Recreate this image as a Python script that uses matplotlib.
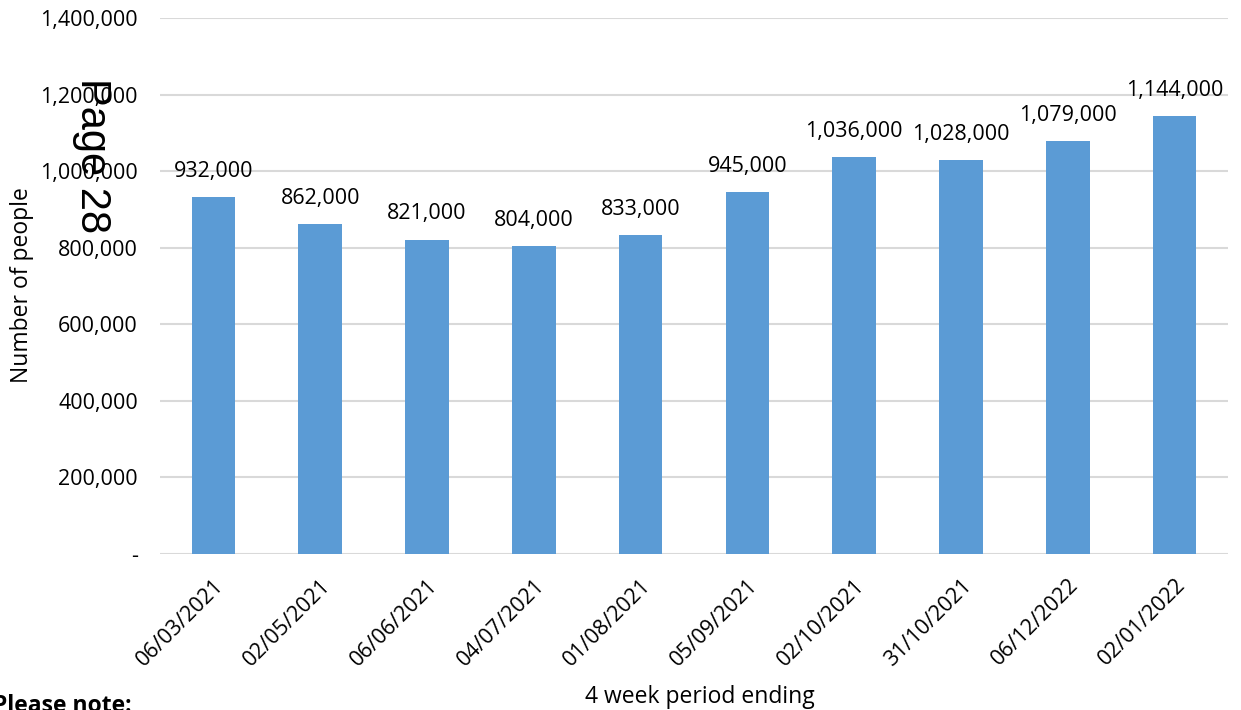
import matplotlib.pyplot as plt
from matplotlib.ticker import FuncFormatter

periods = ['06/03/2021', '02/05/2021', '06/06/2021', '04/07/2021', '01/08/2021',
           '05/09/2021', '02/10/2021', '31/10/2021', '06/12/2022', '02/01/2022']
people = [932000, 862000, 821000, 804000, 833000, 945000, 1036000, 1028000, 1079000, 1144000]
y_ticks = [0, 200000, 400000, 600000, 800000, 1000000, 1200000, 1400000]

plt.rcParams['font.family'] = ['Open Sans', 'DejaVu Sans']

fig = plt.figure(figsize=(12.41, 7.10), dpi=100)
ax = fig.add_axes([160 / 1241, 1 - 554 / 710, 1068 / 1241, 536 / 710])

x = list(range(len(periods)))
bars = ax.bar(x, people, width=0.41, color='#5B9BD5', zorder=3)

ax.set_xlim(-0.5, len(periods) - 0.5)
ax.set_ylim(0, 1400000)
ax.set_yticks(y_ticks)
ax.yaxis.set_major_formatter(FuncFormatter(lambda v, p: '-' if v == 0 else f'{int(v):,}'))
ax.grid(axis='y', color='#D9D9D9', linewidth=1.5, zorder=0)
for s in ax.spines.values():
    s.set_visible(False)
ax.tick_params(axis='both', length=0, labelsize=15.5)
ax.tick_params(axis='y', pad=16)
ax.tick_params(axis='x', pad=15)

ax.set_xticks(x)
ax.set_xticklabels(periods, rotation=45, ha='right', rotation_mode='anchor')

# value labels above bars
for b, v in zip(bars, people):
    ax.annotate(f'{v:,}', (b.get_x() + b.get_width() / 2, v), xytext=(0, 11),
                textcoords='offset points', ha='center', va='bottom', fontsize=15.5)

fig.text(22 / 1241, 1 - 285 / 710, 'Number of people', rotation=90, ha='center', va='center', fontsize=16.5)
fig.text(700 / 1241, 1 - 697 / 710, '4 week period ending', ha='center', va='center', fontsize=16.5)
fig.text(-7 / 1241, 1 - 712 / 710, 'Please note:', ha='left', va='baseline', fontsize=16.5, fontweight='bold')
fig.text(92 / 1241, 1 - 156 / 710, 'Page 28', rotation=-90, ha='center', va='center',
         fontsize=30, family=['Liberation Sans', 'DejaVu Sans'])

fig.savefig('out.png', dpi=100)
